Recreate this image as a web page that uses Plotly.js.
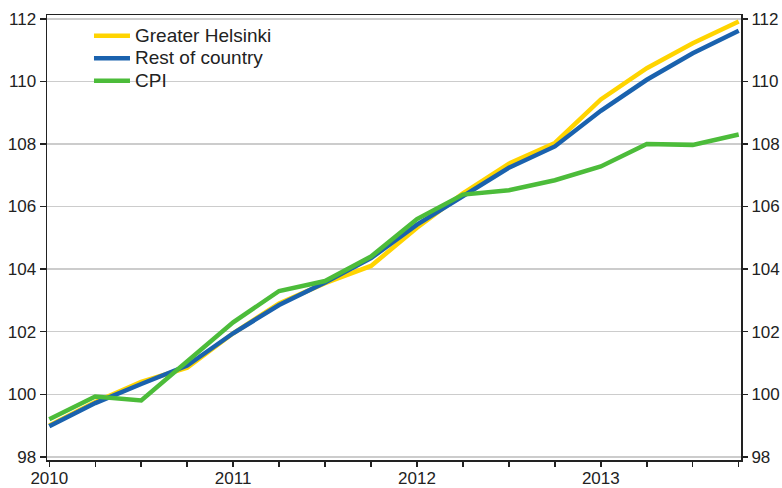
<!DOCTYPE html>
<html>
<head>
<meta charset="utf-8">
<script src="https://cdn.plot.ly/plotly-3.0.1.min.js"></script>
<style>html,body{margin:0;padding:0;background:#fff;}#chart{width:782px;height:488px;}</style>
</head>
<body>
<div id="chart"></div>
<script>
const quarters = ['2010Q1','2010Q2','2010Q3','2010Q4','2011Q1','2011Q2','2011Q3','2011Q4',
                  '2012Q1','2012Q2','2012Q3','2012Q4','2013Q1','2013Q2','2013Q3','2013Q4'];
const tickLabels = ['2010','','','','2011','','','','2012','','','','2013','','',''];
const seriesNames = ['Greater Helsinki', 'Rest of country', 'CPI'];
const greaterHelsinki = [99.0, 99.75, 100.4, 100.85, 101.95, 102.9, 103.55, 104.1,
                         105.32, 106.42, 107.37, 108.03, 109.42, 110.42, 111.22, 111.91];
const restOfCountry   = [98.98, 99.72, 100.33, 100.92, 101.95, 102.85, 103.57, 104.35,
                         105.42, 106.33, 107.24, 107.92, 109.06, 110.05, 110.9, 111.62];
const cpi             = [99.2, 99.93, 99.8, 101.05, 102.3, 103.3, 103.62, 104.4,
                         105.6, 106.38, 106.52, 106.84, 107.28, 108.0, 107.97, 108.3];
const yTicks = [98, 100, 102, 104, 106, 108, 110, 112];

const font = {family: 'Liberation Sans, Arial, sans-serif', size: 17, color: '#222'};
const big = s => '<span style="font-size:19px">' + s + '</span>';
const traces = [
  {x: quarters, y: greaterHelsinki, name: big(seriesNames[0]), type: 'scatter', mode: 'lines',
   line: {color: '#FFD400', width: 4.5}},
  {x: quarters, y: restOfCountry, name: big(seriesNames[1]), type: 'scatter', mode: 'lines',
   line: {color: '#1A62AE', width: 4.5}},
  {x: quarters, y: cpi, name: big(seriesNames[2]), type: 'scatter', mode: 'lines',
   line: {color: '#4CBC3A', width: 4.5}},
  {x: quarters, y: cpi, yaxis: 'y2', type: 'scatter', mode: 'lines', showlegend: false,
   hoverinfo: 'skip', line: {color: 'rgba(0,0,0,0)', width: 0}}
];
const yRange = [97.9, 112.12];
const layout = {
  width: 782, height: 488,
  margin: {l: 47, r: 41, t: 15, b: 28},
  paper_bgcolor: '#fff', plot_bgcolor: '#fff',
  font: font,
  showlegend: true,
  legend: {x: 0.0605, y: 0.99, xanchor: 'left', yanchor: 'top', bgcolor: 'rgba(0,0,0,0)',
           font: {family: font.family, size: 15, color: '#222'}, tracegroupgap: 0, itemwidth: 36},
  xaxis: {type: 'category', range: [-0.05, 15.05], tickmode: 'array', tickvals: quarters, ticktext: tickLabels,
          ticks: 'outside', ticklen: 5, tickwidth: 1.5, tickcolor: '#222', showline: true, linecolor: '#222',
          linewidth: 1.5, mirror: true, showgrid: false, zeroline: false, tickfont: font, ticklabelstandoff: -3},
  yaxis: {range: yRange, tickvals: yTicks, ticks: 'outside', ticklen: 6, tickwidth: 1.5, tickcolor: '#222',
          showline: true, linecolor: '#222', linewidth: 1.5, mirror: true, showgrid: true,
          gridcolor: '#cccccc', gridwidth: 1.5, zeroline: false, tickfont: font},
  yaxis2: {range: yRange, tickvals: yTicks, overlaying: 'y', side: 'right', ticks: 'outside', ticklen: 6,
           tickwidth: 1.5, tickcolor: '#222', showline: false, showgrid: false, zeroline: false, tickfont: font}
};
Plotly.newPlot('chart', traces, layout, {displayModeBar: false, staticPlot: true});
</script>
</body>
</html>
